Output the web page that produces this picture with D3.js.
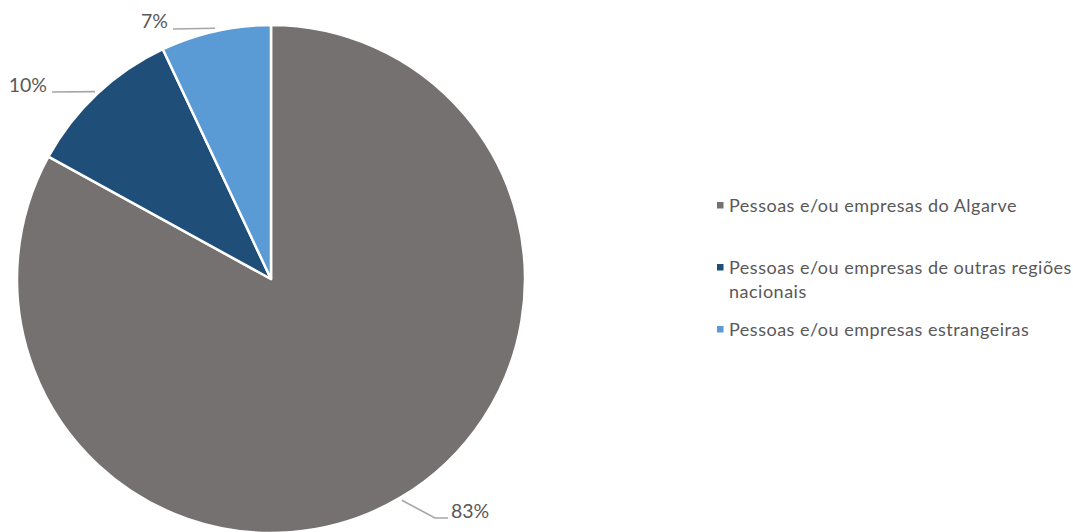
<!DOCTYPE html>
<html>
<head>
<meta charset="utf-8">
<script src="https://cdn.jsdelivr.net/npm/d3@7"></script>
<style>
  html, body { margin: 0; padding: 0; background: #fff; }
  svg { display: block; }
  text { font-family: Lato, "Open Sans", sans-serif; fill: #595959; }
</style>
</head>
<body>
<svg id="chart" width="1073" height="532"></svg>
<script>
// Origem dos visitantes / clientes
const categories = [
  "Pessoas e/ou empresas do Algarve",
  "Pessoas e/ou empresas de outras regiões nacionais",
  "Pessoas e/ou empresas estrangeiras"
];
const values = [83, 10, 7];
const valueLabels = ["83%", "10%", "7%"];
const colors = ["#767171", "#1F4E79", "#5B9BD5"];

const svg = d3.select("#chart");
const cx = 271, cy = 279, radius = 254;

const pie = d3.pie().sort(null).value(d => d)(values);
const arc = d3.arc().innerRadius(0).outerRadius(radius);

const g = svg.append("g").attr("transform", `translate(${cx},${cy})`);

g.selectAll("path.slice")
  .data(pie)
  .join("path")
  .attr("class", "slice")
  .attr("d", arc)
  .attr("fill", (d, i) => colors[i])
  .attr("stroke", "#fff")
  .attr("stroke-width", 2.5)
  .attr("stroke-linejoin", "round");

// Data labels with leader lines (offsets relative to the pie centre)
const labelLayout = [
  { x: 180, y: 239, anchor: "start", path: [[164, 239], [177, 239]] },  // 83%
  { x: -224, y: -187, anchor: "end", path: [[-219, -187]] },            // 10%
  { x: -103, y: -251, anchor: "end", path: [[-98, -250]] }              // 7%
];

pie.forEach((d, i) => {
  const mid = (d.startAngle + d.endAngle) / 2;
  const r0 = radius + 3;
  const start = [Math.sin(mid) * r0, -Math.cos(mid) * r0];
  const L = labelLayout[i];
  g.append("path")
    .attr("d", d3.line()([start, ...L.path]))
    .attr("fill", "none")
    .attr("stroke", "#a6a6a6")
    .attr("stroke-width", 1.6);
  g.append("text")
    .attr("x", L.x)
    .attr("y", L.y)
    .attr("text-anchor", L.anchor)
    .attr("font-size", 19.5)
    .text(valueLabels[i]);
});

// Legend
const legendX = 717;
const legendRows = [
  { y: 212, lines: ["Pessoas e/ou empresas do Algarve"] },
  { y: 274, lines: ["Pessoas e/ou empresas de outras regiões", "nacionais"] },
  { y: 336, lines: ["Pessoas e/ou empresas estrangeiras"] }
];
const legend = svg.append("g");
legendRows.forEach((row, i) => {
  legend.append("rect")
    .attr("x", legendX)
    .attr("y", row.y - 10)
    .attr("width", 6.5)
    .attr("height", 6.5)
    .attr("fill", colors[i]);
  const t = legend.append("text")
    .attr("x", legendX + 12)
    .attr("y", row.y)
    .attr("font-size", 18)
    .attr("letter-spacing", 0.5);
  row.lines.forEach((ln, j) => {
    t.append("tspan")
      .attr("x", legendX + 12)
      .attr("y", row.y + j * 24)
      .text(ln);
  });
});
</script>
</body>
</html>
